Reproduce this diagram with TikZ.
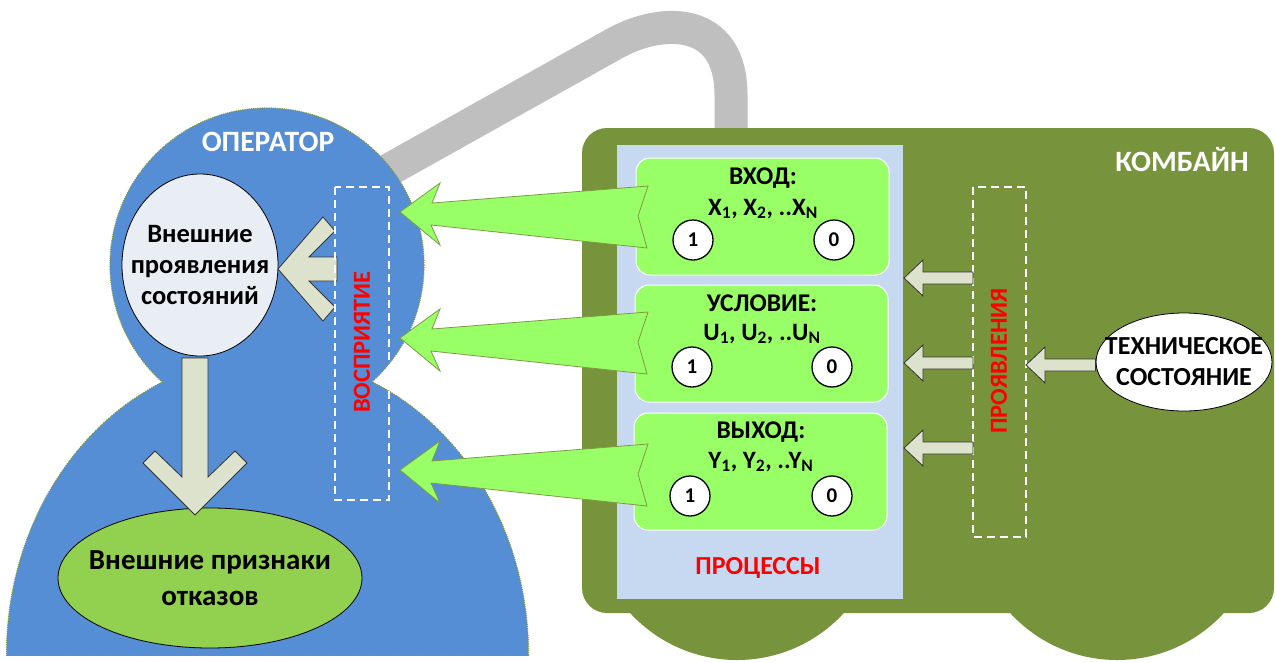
\documentclass[tikz,border=0pt]{standalone}
\usepackage{fontspec}
\setmainfont{Carlito}
\usetikzlibrary{shapes.geometric}

\definecolor{operblue}{HTML}{558ED5}
\definecolor{combgreen}{HTML}{77933C}
\definecolor{procblue}{HTML}{C6D9F1}
\definecolor{boxgreen}{HTML}{99FF66}
\definecolor{ellgreen}{HTML}{92D050}
\definecolor{ellgray}{HTML}{E9EDF4}
\definecolor{cablegray}{HTML}{BFBFBF}
\definecolor{arrgray}{HTML}{DDE2CD}
\definecolor{dotgreen}{HTML}{7F9A45}

\tikzset{
  stagebox/.style={fill=boxgreen, draw=white, line width=1pt, rounded corners=14pt,
    minimum width=253pt, minimum height=117pt},
  bit/.style={circle, draw=black, fill=white, line width=1.3pt, minimum size=40pt,
    inner sep=0pt, font=\fontsize{21}{21}\selectfont\bfseries},
  boxtitle/.style={font=\fontsize{25.5}{25.5}\selectfont\bfseries},
  boxlist/.style={font=\fontsize{25}{25}\selectfont\bfseries},
  oval/.style={ellipse, draw=black, line width=0.8pt, inner sep=0pt},
  ovaltext/.style={align=center, inner sep=0pt},
  bigarrow/.style={fill=boxgreen, draw=dotgreen, line width=0.8pt},
  smallarrow/.style={fill=arrgray, draw=black!80, line width=0.8pt},
  zone/.style={draw=white, dash pattern=on 8pt off 5pt, line width=1.2pt},
  redlabel/.style={text=red, rotate=90, font=\fontsize{24.5}{24.5}\selectfont\bfseries},
  whitelabel/.style={text=white, font=\fontsize{29.5}{29.5}\selectfont\bfseries},
  oper/.style={fill=operblue, draw=dotgreen, densely dotted, line width=1.2pt},
}

\begin{document}
\begin{tikzpicture}[x=1pt, y=-1pt]
  \useasboundingbox (0,0) rectangle (1275,662);

  % cable
  \draw[cablegray, line width=33pt] (385,172) -- (612,45)
    .. controls (660,17) and (731,15) .. (731,95) -- (731,140);

  % combine: wheels and body
  \fill[combgreen] (737,515) circle (145);
  \fill[combgreen] (1117,515) circle (145);
  \fill[combgreen, rounded corners=25pt] (582,128) rectangle (1274,613);
  \fill[procblue] (617,145) rectangle (903,599);
  \node[whitelabel] (combine) at (1182,160) {КОМБАЙН};
  \node[text=red, font=\fontsize{26}{26}\selectfont\bfseries] (proc) at (758,568) {ПРОЦЕССЫ};

  % operator: body and head
  \begin{scope}
    \clip (0,0) rectangle (1275,655);
    \draw[oper] (267.5,655) ellipse [x radius=261, y radius=298];
  \end{scope}
  \draw[oper] (267,265) circle (157);
  \draw[dotgreen, densely dotted, line width=1.2pt] (7,655) -- (528,655);
  \fill[operblue] (267,265) circle (156.3);
  \begin{scope}
    \clip (0,0) rectangle (1275,654.4);
    \fill[operblue] (267.5,655) ellipse [x radius=260.3, y radius=297.3];
  \end{scope}
  \node[whitelabel] (operator) at (268,142) {ОПЕРАТОР};

  \node[oval, fill=ellgray, minimum width=156pt, minimum height=182pt] (signs) at (200,265) {};
  \node[ovaltext, font=\fontsize{26.5}{31}\selectfont\bfseries] (signstext) at (signs)
    {Внешние\\проявления\\состояний};
  \node[oval, fill=ellgreen, minimum width=304pt, minimum height=140pt] (faults) at (210,578) {};
  \node[ovaltext, font=\fontsize{29}{36}\selectfont\bfseries] (faultstext) at (faults)
    {Внешние признаки\\отказов};

  % arrows inside the operator
  \draw[smallarrow] (182,358) -- (208,358) -- (208,477) -- (235,451) -- (247,463)
    -- (195,515) -- (143,463) -- (155,451) -- (182,477) -- cycle;
  \draw[smallarrow] (278,269) -- (323,217) -- (335,231) -- (309,257) -- (337,257)
    -- (337,281) -- (309,281) -- (335,307) -- (323,321) -- cycle;

  \draw[zone] (335,187) rectangle (389,500);
  \node[redlabel] (perception) at (362,342) {ВОСПРИЯТИЕ};

  % process stages
  \node[stagebox] (input) at (762.5,216.5) {};
  \node[stagebox] (cond) at (761.5,343.5) {};
  \node[stagebox] (output) at (760.5,471.5) {};

  \node[boxtitle] (intitle) at (763,178) {ВХОД:};
  \node[boxlist] (inlist) at (763,209) {X\textsubscript{1}, X\textsubscript{2}, ..X\textsubscript{N}};
  \node[bit] (in1) at (693,240) {1};
  \node[bit] (in0) at (834,240) {0};

  \node[boxtitle] (condtitle) at (762,303) {УСЛОВИЕ:};
  \node[boxlist] (condlist) at (762,334) {U\textsubscript{1}, U\textsubscript{2}, ..U\textsubscript{N}};
  \node[bit] (cond1) at (692,367) {1};
  \node[bit] (cond0) at (832,367) {0};

  \node[boxtitle] (outtitle) at (761,432) {ВЫХОД:};
  \node[boxlist] (outlist) at (761,462) {Y\textsubscript{1}, Y\textsubscript{2}, ..Y\textsubscript{N}};
  \node[bit] (out1) at (690,496) {1};
  \node[bit] (out0) at (832,496) {0};

  % perception arrows
  \draw[bigarrow, shift={(0,212)}] (400,0) -- (440,-29) -- (432,-9) -- (648,-26)
    -- (638,4) -- (647,36) -- (431,13) -- (440,33) -- cycle;
  \draw[bigarrow, shift={(0,338)}] (400,0) -- (440,-29) -- (432,-9) -- (648,-26)
    -- (638,4) -- (647,36) -- (431,13) -- (440,33) -- cycle;
  \draw[bigarrow, shift={(0,470)}] (400,0) -- (440,-29) -- (432,-9) -- (648,-26)
    -- (638,4) -- (647,36) -- (431,13) -- (440,33) -- cycle;

  % manifestations
  \draw[zone] (973,187) rectangle (1026,537);
  \node[redlabel] (manifest) at (999,361) {ПРОЯВЛЕНИЯ};

  \draw[smallarrow, shift={(0,278)}] (904,0) -- (923,-18) -- (923,-6) -- (973,-6)
    -- (973,6) -- (923,6) -- (923,18) -- cycle;
  \draw[smallarrow, shift={(0,363)}] (904,0) -- (923,-18) -- (923,-6) -- (973,-6)
    -- (973,6) -- (923,6) -- (923,18) -- cycle;
  \draw[smallarrow, shift={(0,448)}] (904,0) -- (923,-18) -- (923,-6) -- (973,-6)
    -- (973,6) -- (923,6) -- (923,18) -- cycle;

  \node[oval, fill=white, minimum width=176pt, minimum height=98pt] (tech) at (1184,362) {};
  \node[ovaltext, font=\fontsize{26}{31}\selectfont\bfseries] (techtext) at (tech)
    {ТЕХНИЧЕСКОЕ\\СОСТОЯНИЕ};
  \draw[smallarrow, shift={(0,365)}] (1026,0) -- (1045,-18) -- (1045,-6) -- (tech.west |- 0,-6)
    -- (tech.west |- 0,6) -- (1045,6) -- (1045,18) -- cycle;
\end{tikzpicture}
\end{document}
